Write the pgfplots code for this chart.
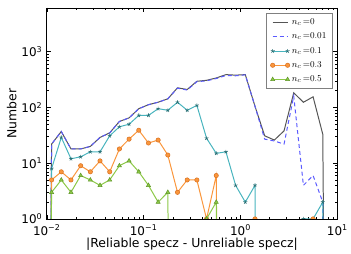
\documentclass[border=0pt]{standalone}
\usepackage{fontspec}
\setmainfont{DejaVu Sans}
\usepackage{pgfplots}
\pgfplotsset{compat=1.18}
\definecolor{cgray}{RGB}{85,85,85}
\definecolor{cblue}{RGB}{90,90,255}
\definecolor{ccyan}{RGB}{72,180,190}
\definecolor{ccyanD}{RGB}{40,110,115}
\definecolor{corange}{RGB}{250,150,60}
\definecolor{corangeD}{RGB}{215,110,30}
\definecolor{cgreen}{RGB}{140,200,70}
\definecolor{cgreenD}{RGB}{95,150,40}
\begin{document}
\begin{tikzpicture}
\path (-47pt,-33pt) rectangle (304pt,220pt);
\begin{axis}[at={(0,0)}, anchor=south west, scale only axis,
 width=292pt, height=212pt,
 xmode=log, ymode=log, xmin=0.01, xmax=10, ymin=1, ymax=6100,
 xtick={0.01,0.1,1,10},
 xticklabels={10\textsuperscript{−2},10\textsuperscript{−1},10\textsuperscript{0},10\textsuperscript{1}},
 ytick={1,10,100,1000},
 yticklabels={10\textsuperscript{0},10\textsuperscript{1},10\textsuperscript{2},10\textsuperscript{3}},
 tick align=inside, major tick length=4pt, minor tick length=2pt,
 every tick/.style={black, line width=0.5pt},
 axis line style={black, line width=0.7pt},
 xlabel={|Reliable specz - Unreliable specz|}, ylabel={Number},
 label style={font=\fontsize{12.5}{14}\selectfont},
 tick label style={font=\fontsize{12}{14}\selectfont},
 xticklabel style={yshift=-2.5pt},
 yticklabel style={xshift=-1pt},
 xlabel style={yshift=4pt},
 ylabel style={yshift=-2pt},
 clip marker paths=true,
 legend style={at={(0.984,0.975)}, anchor=north east, draw=gray, line width=0.5pt,
   font=\fontsize{9.5}{11}\selectfont, row sep=3pt, inner xsep=4pt, inner ysep=3.5pt},
 legend cell align=left,
 legend image code/.code={\draw[#1] plot coordinates {(0pt,0pt) (15pt,0pt)};},
]
\addplot[cgray, line width=1pt] coordinates {
(0.008913,1e-20)(0.011220,22)(0.014125,37)(0.017783,18)(0.022387,18)(0.028184,20)
(0.035481,29)(0.044668,35)(0.056234,56)(0.070795,65)(0.089125,95)(0.11220,112)
(0.14125,124)(0.17783,143)(0.22387,225)(0.28184,210)(0.35481,295)(0.44668,307)
(0.56234,338)(0.70795,388)(0.89125,380)(1.1220,388)(1.4125,105)(1.7783,31)
(2.2387,26)(2.8184,38)(3.5481,183)(4.4668,124)(5.6234,155)(7.0795,33)(8.9125,1e-20)};
\addlegendentry{$n_c\,{=}0$}
\addplot[cblue, line width=1pt, dash pattern=on 4pt off 3pt] coordinates {
(0.008913,1e-20)(0.011220,22)(0.014125,37)(0.017783,18)(0.022387,18)(0.028184,20)
(0.035481,29)(0.044668,35)(0.056234,56)(0.070795,65)(0.089125,95)(0.11220,112)
(0.14125,124)(0.17783,143)(0.22387,222)(0.28184,205)(0.35481,290)(0.44668,300)
(0.56234,330)(0.70795,375)(0.89125,370)(1.1220,385)(1.4125,105)(1.7783,27)
(2.2387,25)(2.8184,22)(3.5481,160)(4.4668,4)(5.6234,6)(7.0795,2)(8.9125,1e-20)};
\addlegendentry{$n_c\,{=}0.01$}
\addplot[ccyan, line width=1pt, mark=star, mark size=2pt,
  mark options={solid, draw=ccyanD, line width=0.6pt}] coordinates {
(0.008913,1e-20)(0.011220,8)(0.014125,29)(0.017783,12)(0.022387,13)(0.028184,16)
(0.035481,16)(0.044668,31)(0.056234,45)(0.070795,50)(0.089125,72)(0.11220,72)
(0.14125,95)(0.17783,89)(0.22387,124)(0.28184,89)(0.35481,109)(0.44668,28)
(0.56234,15)(0.70795,16)(0.89125,4)(1.1220,2)(1.4125,4)(1.7783,1e-20)
(2.2387,1e-20)(2.8184,1e-20)(3.5481,1e-20)(4.4668,1)(5.6234,1)(7.0795,2)(8.9125,1e-20)};
\addlegendentry{$n_c\,{=}0.1$}
\addplot[corange, line width=1pt, mark=*, mark size=2.2pt,
  mark options={solid, fill=corange, draw=corangeD, line width=0.5pt}] coordinates {
(0.008913,1e-20)(0.011220,5)(0.014125,7)(0.017783,5)(0.022387,9)(0.028184,7)
(0.035481,11)(0.044668,7)(0.056234,18)(0.070795,27)(0.089125,39)(0.11220,23)
(0.14125,26)(0.17783,14)(0.22387,3)(0.28184,5)(0.35481,5)(0.44668,1)
(0.56234,6)(0.70795,1e-20)(0.89125,1e-20)(1.1220,1e-20)(1.4125,1)(1.7783,1e-20)
(2.2387,1e-20)(2.8184,1e-20)(3.5481,1e-20)(4.4668,1e-20)(5.6234,1)(7.0795,1e-20)};
\addlegendentry{$n_c\,{=}0.3$}
\addplot[cgreen, line width=1pt, mark=triangle*, mark size=2.4pt,
  mark options={solid, fill=cgreen, draw=cgreenD, line width=0.5pt}] coordinates {
(0.008913,1e-20)(0.011220,3)(0.014125,5)(0.017783,3)(0.022387,6)(0.028184,5)
(0.035481,4)(0.044668,5)(0.056234,9)(0.070795,11)(0.089125,7)(0.11220,4)
(0.14125,2)(0.17783,3)(0.22387,1e-20)(0.28184,1e-20)(0.35481,1e-20)(0.44668,1)
(0.56234,2)(0.70795,1e-20)};
\addlegendentry{$n_c\,{=}0.5$}
\end{axis}
\end{tikzpicture}
\end{document}
